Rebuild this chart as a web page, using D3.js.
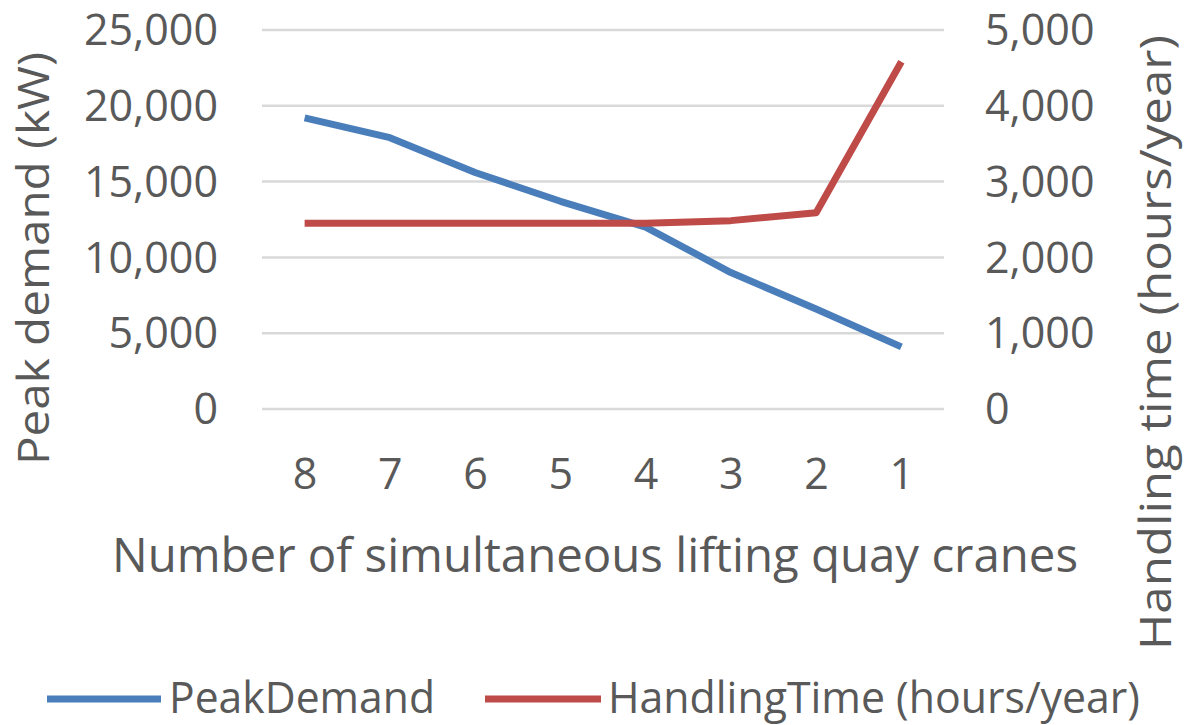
<!DOCTYPE html>
<html>
<head>
<meta charset="utf-8">
<script src="https://cdn.jsdelivr.net/npm/d3@7"></script>
<style>
  html, body { margin: 0; padding: 0; background: #fff; }
  svg { display: block; }
  text { font-family: "Open Sans", "DejaVu Sans", sans-serif; fill: #595959; }
</style>
</head>
<body>
<svg id="chart" width="1186" height="725"></svg>
<script>
// ---- data ----
const categories = ["8", "7", "6", "5", "4", "3", "2", "1"];
const peakDemand = [19200, 17900, 15600, 13700, 12000, 9000, 6600, 4100];
const handlingTime = [2450, 2450, 2450, 2450, 2450, 2485, 2590, 4580];
const leftTicks = [0, 5000, 10000, 15000, 20000, 25000];
const rightTicks = [0, 1000, 2000, 3000, 4000, 5000];
const xTitle = "Number of simultaneous lifting quay cranes";
const yLeftTitle = "Peak demand (kW)";
const yRightTitle = "Handling time (hours/year)";
const seriesNames = ["PeakDemand", "HandlingTime (hours/year)"];
const seriesColors = ["#4A7EBB", "#BE4B48"];

// ---- layout ----
const svg = d3.select("#chart");
const plot = { left: 262, right: 944, top: 30, bottom: 409 };

const x = d3.scalePoint().domain(categories).range([plot.left, plot.right]).padding(0.5);
const yL = d3.scaleLinear().domain([0, 25000]).range([plot.bottom, plot.top]);
const yR = d3.scaleLinear().domain([0, 5000]).range([plot.bottom, plot.top]);
const fmt = d3.format(",");

// gridlines
svg.append("g").selectAll("line").data(leftTicks).join("line")
  .attr("x1", plot.left).attr("x2", plot.right)
  .attr("y1", d => yL(d)).attr("y2", d => yL(d))
  .attr("stroke", "#d9d9d9").attr("stroke-width", 2.5);

// left axis labels
const axL = svg.append("g").attr("transform", `translate(218,0)`)
  .call(d3.axisLeft(yL).tickValues(leftTicks).tickFormat(fmt).tickSize(0).tickPadding(0));
axL.select(".domain").remove();
axL.selectAll("text").attr("font-size", 43).attr("fill", "#595959")
  .attr("font-family", '"Open Sans", sans-serif').attr("dy", "0.34em");

// right axis labels (left aligned)
const axR = svg.append("g").attr("transform", `translate(985,0)`)
  .call(d3.axisRight(yR).tickValues(rightTicks).tickFormat(fmt).tickSize(0).tickPadding(0));
axR.select(".domain").remove();
axR.selectAll("text").attr("font-size", 43).attr("fill", "#595959")
  .attr("font-family", '"Open Sans", sans-serif').attr("dy", "0.34em");

// x axis labels
const axX = svg.append("g").attr("transform", `translate(0,474)`)
  .call(d3.axisBottom(x).tickSize(0).tickPadding(0));
axX.select(".domain").remove();
axX.selectAll("text").attr("font-size", 43).attr("fill", "#595959")
  .attr("font-family", '"Open Sans", sans-serif').attr("dy", "0.34em");

// lines
const lineL = d3.line().x((d, i) => x(categories[i])).y(d => yL(d));
const lineR = d3.line().x((d, i) => x(categories[i])).y(d => yR(d));

svg.append("path").datum(peakDemand).attr("d", lineL)
  .attr("fill", "none").attr("stroke", seriesColors[0]).attr("stroke-width", 7)
  .attr("stroke-linejoin", "round").attr("stroke-linecap", "butt");
svg.append("path").datum(handlingTime).attr("d", lineR)
  .attr("fill", "none").attr("stroke", seriesColors[1]).attr("stroke-width", 7)
  .attr("stroke-linejoin", "round").attr("stroke-linecap", "butt");

// axis titles
svg.append("text").attr("x", 112).attr("y", 572)
  .attr("font-size", 48).attr("textLength", 966).attr("lengthAdjust", "spacingAndGlyphs")
  .text(xTitle);

svg.append("text").attr("transform", "translate(49,465) rotate(-90)")
  .attr("font-size", 44).attr("textLength", 413).attr("lengthAdjust", "spacingAndGlyphs")
  .text(yLeftTitle);

svg.append("text").attr("transform", "translate(1171,650) rotate(-90)")
  .attr("font-size", 44).attr("textLength", 615).attr("lengthAdjust", "spacingAndGlyphs")
  .text(yRightTitle);

// legend
const legend = [
  { name: seriesNames[0], color: seriesColors[0], x1: 47, x2: 161, tx: 169, tl: 266 },
  { name: seriesNames[1], color: seriesColors[1], x1: 485, x2: 601, tx: 608, tl: 532 }
];
const lg = svg.append("g");
lg.selectAll("line").data(legend).join("line")
  .attr("x1", d => d.x1).attr("x2", d => d.x2).attr("y1", 699).attr("y2", 699)
  .attr("stroke", d => d.color).attr("stroke-width", 7);
lg.selectAll("text").data(legend).join("text")
  .attr("x", d => d.tx).attr("y", 713)
  .attr("font-size", 43).attr("textLength", d => d.tl).attr("lengthAdjust", "spacingAndGlyphs")
  .text(d => d.name);
</script>
</body>
</html>
